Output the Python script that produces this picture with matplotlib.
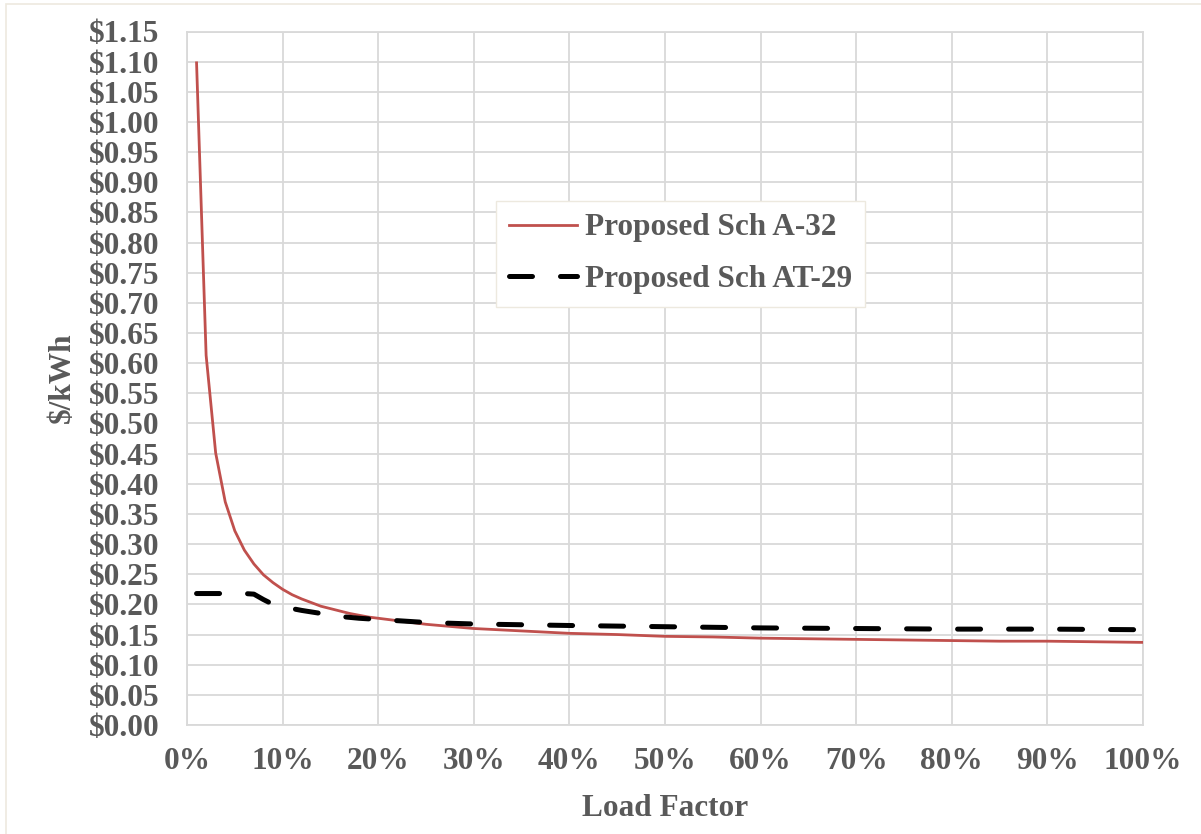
import matplotlib.pyplot as plt
from matplotlib.patches import Rectangle

# load factor (%) and $/kWh values
lf_a32 = [1, 2, 3, 4, 5, 6, 7, 8, 9, 10, 11, 12, 13, 14, 15, 16, 17, 18, 19, 20,
          25, 30, 35, 40, 45, 50, 55, 60, 65, 70, 75, 80, 85, 90, 95, 100]
cost_a32 = [1.098, 0.613, 0.451, 0.370, 0.322, 0.290, 0.267, 0.249, 0.236, 0.225,
            0.216, 0.209, 0.203, 0.197, 0.193, 0.189, 0.185, 0.182, 0.179, 0.177,
            0.167, 0.160, 0.156, 0.152, 0.150, 0.147, 0.146, 0.144, 0.143, 0.142,
            0.141, 0.140, 0.139, 0.139, 0.138, 0.137]

lf_at29 = [1, 2, 3, 4, 5, 6, 7, 8, 9, 10, 12, 14, 16, 18, 20, 25, 30, 40, 50,
           60, 70, 80, 90, 100]
cost_at29 = [0.218, 0.218, 0.218, 0.218, 0.218, 0.218, 0.217, 0.208, 0.200, 0.196,
             0.190, 0.185, 0.180, 0.177, 0.175, 0.170, 0.1675, 0.165, 0.163,
             0.161, 0.160, 0.159, 0.159, 0.158]

labels = ['Proposed Sch A-32', 'Proposed Sch AT-29']

grey = '#595959'
grid = '#D9D9D9'
fs = 22.5
plt.rcParams['font.family'] = ['Liberation Serif', 'DejaVu Serif']
plt.rcParams['font.weight'] = 'bold'

fig = plt.figure(figsize=(12.01, 8.34), dpi=100)
fig.patches.append(Rectangle((6 / 1201, -0.01), 1.02, 1 - 4 / 834 + 0.01,
                             transform=fig.transFigure, fill=False,
                             edgecolor='#EDE9DF', lw=1.2))
ax = fig.add_axes([187 / 1201, 1 - 725 / 834, 956 / 1201, 693.5 / 834])

x1 = [v / 100 for v in lf_a32]
x2 = [v / 100 for v in lf_at29]
ax.plot(x1, cost_a32, color='#C0504D', lw=2.0, label=labels[0], zorder=3)
ax.plot(x2, cost_at29, color='black', lw=3.6, dashes=(4.6, 5.6),
        dash_capstyle='round', label=labels[1], zorder=3)

ax.set_xlim(0, 1)
ax.set_ylim(0, 1.15)
ax.set_xticks([i / 10 for i in range(11)])
ax.set_xticklabels([f'{i * 10}%' for i in range(11)])
ax.set_yticks([i * 0.05 for i in range(24)])
ax.set_yticklabels([f'${i * 0.05:.2f}' for i in range(24)])
ax.tick_params(axis='both', length=0, labelsize=fs, labelcolor=grey)
ax.tick_params(axis='y', pad=20)
ax.tick_params(axis='x', pad=16)
ax.grid(True, color=grid, lw=1.3)
ax.set_axisbelow(True)
for s in ax.spines.values():
    s.set_color(grid)
    s.set_linewidth(1.3)

fig.text(665 / 1201, 1 - 808 / 834, 'Load Factor', ha='center', va='center',
         fontsize=fs, color=grey, fontweight='bold')
fig.text(62 / 1201, 1 - 378 / 834, '$/kWh', ha='center', va='center',
         rotation=90, fontsize=fs, color=grey, fontweight='bold')

leg = ax.legend(loc='upper left', bbox_to_anchor=(496 / 1201, 1 - 201 / 834),
                bbox_transform=fig.transFigure, borderaxespad=0, fancybox=False,
                framealpha=1, edgecolor='#EDE9DF', fontsize=fs, handlelength=2.2,
                handletextpad=0.25, labelspacing=0.72, borderpad=0.4)
for t in leg.get_texts():
    t.set_color(grey)

fig.savefig('out.png', dpi=100)
